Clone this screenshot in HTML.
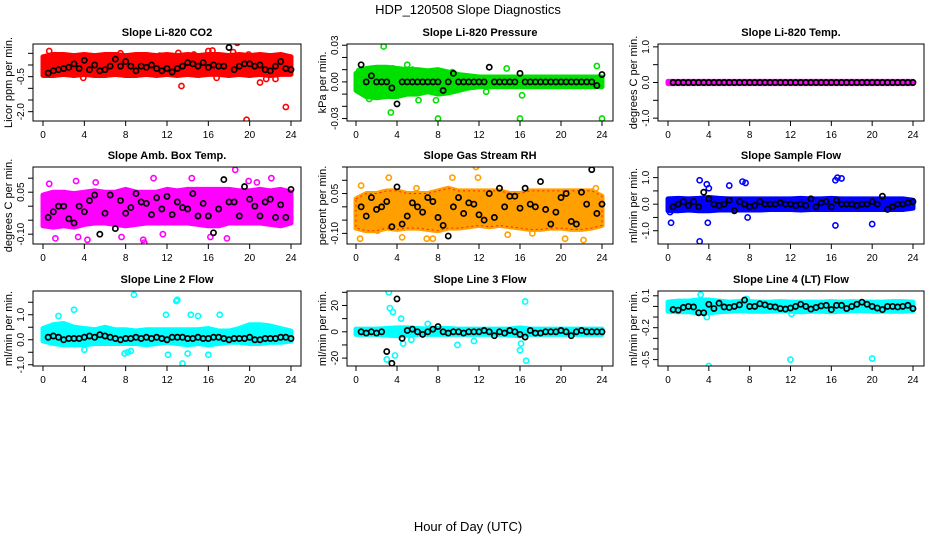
<!DOCTYPE html>
<html><head><meta charset="utf-8"><style>
body{margin:0;background:#fff;}
svg{display:block;font-family:"Liberation Sans",Arial,sans-serif;}
</style></head><body>
<svg id="chart" width="936" height="540" viewBox="0 0 936 540">
<text x="468" y="14" text-anchor="middle" font-size="13">HDP_120508  Slope Diagnostics</text>
<text x="468" y="531" text-anchor="middle" font-size="13">Hour of Day (UTC)</text>
</svg>
<script>
const xTicks=[0,4,8,12,16,20,24];
const blackHours=[0.5,1,1.5,2,2.5,3,3.5,4,4.5,5,5.5,6,6.5,7,7.5,8,8.5,9,9.5,10,10.5,11,11.5,12,12.5,13,13.5,14,14.5,15,15.5,16,16.5,17,17.5,18,18.5,19,19.5,20,20.5,21,21.5,22,22.5,23,23.5,24];
const bandHours=[0,1,2,3,4,5,6,7,8,9,10,11,12,13,14,15,16,17,18,19,20,21,22,23,24];
const titles=["Slope Li-820 CO2","Slope Li-820 Pressure","Slope Li-820 Temp.","Slope Amb. Box Temp.","Slope Gas Stream RH","Slope Sample Flow","Slope Line 2 Flow","Slope Line 3 Flow","Slope Line 4 (LT) Flow"];
const yTitles=["Licor ppm per min.","kPa per min.","degrees C per min.","degrees C per min.","percent per min.","ml/min per min.","ml/min per min.","ml/min per min.","ml/min per min."];
const yTickVals=[[0.5,0,-0.5,-1,-1.5,-2],[0.03,0.02,0.01,0,-0.01,-0.02,-0.03],[1,0.5,0,-0.5,-1],[0.1,0.05,0,-0.05,-0.1],[0.15,0.1,0.05,0,-0.05,-0.1],[1,0.5,0,-0.5,-1],[1.5,1,0.5,0,-0.5,-1],[30,20,10,0,-10,-20],[0.1,0,-0.1,-0.2,-0.3,-0.4,-0.5]];
const yTickLabels=[[null,null,"-0.5",null,null,"-2.0"],["0.03",null,null,"0.00",null,null,"-0.03"],["1.0",null,"0.0",null,"-1.0"],[null,"0.05",null,null,"-0.10"],[null,null,"0.05",null,null,"-0.10"],["1.0",null,"0.0",null,"-1.0"],[null,"1.0",null,"0.0",null,"-1.0"],[null,"20",null,"0",null,"-20"],["0.1",null,null,"-0.2",null,null,"-0.5"]];
const yLims=[[0.9,-2.4],[0.031,-0.032],[1.08,-1.08],[0.14,-0.135],[0.15,-0.14],[1.4,-1.5],[1.95,-1.05],[31,-26],[0.145,-0.56]];
const colors=["#ff0000","#00e000","#ff00ff","#ff00ff","#ffa000","#0000ff","#00ffff","#00ffff","#00ffff"];
const bandLo=[
[-0.45,-0.45,-0.4,-0.45,-0.4,-0.45,-0.45,-0.4,-0.45,-0.45,-0.4,-0.45,-0.4,-0.45,-0.4,-0.45,-0.4,-0.4,-0.45,-0.4,-0.45,-0.4,-0.45,-0.4,-0.4],
[-0.007,-0.012,-0.013,-0.012,-0.012,-0.01,-0.01,-0.008,-0.01,-0.009,-0.007,-0.005,-0.004,-0.004,-0.004,-0.004,-0.004,-0.004,-0.004,-0.004,-0.004,-0.004,-0.004,-0.004,-0.004],
[-0.03,-0.03,-0.03,-0.03,-0.03,-0.03,-0.03,-0.03,-0.03,-0.03,-0.03,-0.03,-0.03,-0.03,-0.03,-0.03,-0.03,-0.03,-0.03,-0.03,-0.03,-0.03,-0.03,-0.03,-0.03],
[-0.07,-0.075,-0.07,-0.075,-0.065,-0.06,-0.06,-0.065,-0.07,-0.065,-0.06,-0.06,-0.06,-0.06,-0.06,-0.065,-0.07,-0.07,-0.06,-0.06,-0.06,-0.06,-0.065,-0.07,-0.06],
[-0.08,-0.09,-0.09,-0.08,-0.085,-0.08,-0.08,-0.085,-0.09,-0.08,-0.08,-0.075,-0.07,-0.075,-0.07,-0.075,-0.08,-0.085,-0.085,-0.08,-0.08,-0.085,-0.085,-0.08,-0.07],
[-0.25,-0.25,-0.22,-0.25,-0.25,-0.22,-0.22,-0.22,-0.22,-0.22,-0.2,-0.2,-0.2,-0.22,-0.2,-0.2,-0.2,-0.2,-0.2,-0.2,-0.2,-0.2,-0.2,-0.2,-0.15],
[-0.05,-0.15,-0.2,-0.2,-0.2,-0.15,-0.15,-0.15,-0.15,-0.15,-0.2,-0.15,-0.1,-0.15,-0.2,-0.15,-0.2,-0.15,-0.1,-0.1,-0.15,-0.15,-0.1,-0.1,-0.05],
[-2,-2,-2,-2.5,-3,-2.5,-2,-2,-2,-2,-2,-2,-2,-2,-2,-2.5,-3,-2,-2,-2,-2,-2,-2,-2,-2],
[-0.045,-0.05,-0.05,-0.06,-0.06,-0.05,-0.045,-0.04,-0.045,-0.045,-0.045,-0.04,-0.045,-0.05,-0.045,-0.045,-0.05,-0.045,-0.04,-0.04,-0.045,-0.045,-0.045,-0.045,-0.04]];
const bandHi=[
[0.35,0.45,0.45,0.4,0.45,0.4,0.45,0.45,0.4,0.45,0.45,0.4,0.45,0.4,0.45,0.4,0.45,0.45,0.4,0.45,0.4,0.45,0.4,0.45,0.35],
[0.007,0.011,0.012,0.012,0.011,0.01,0.01,0.009,0.01,0.008,0.006,0.005,0.004,0.004,0.004,0.004,0.004,0.004,0.004,0.004,0.004,0.004,0.004,0.004,0.004],
[0.03,0.03,0.03,0.03,0.03,0.03,0.03,0.03,0.03,0.03,0.03,0.03,0.03,0.03,0.03,0.03,0.03,0.03,0.03,0.03,0.03,0.03,0.03,0.03,0.03],
[0.04,0.05,0.05,0.045,0.05,0.055,0.05,0.05,0.06,0.05,0.05,0.05,0.06,0.055,0.06,0.06,0.06,0.06,0.06,0.055,0.055,0.06,0.055,0.06,0.05],
[0.03,0.05,0.05,0.06,0.06,0.05,0.05,0.05,0.06,0.07,0.06,0.06,0.06,0.06,0.06,0.05,0.05,0.06,0.06,0.06,0.06,0.06,0.06,0.06,0.04],
[0.2,0.22,0.2,0.22,0.25,0.22,0.2,0.2,0.2,0.2,0.2,0.2,0.2,0.22,0.2,0.2,0.22,0.2,0.2,0.2,0.2,0.2,0.2,0.2,0.15],
[0.45,0.6,0.65,0.5,0.45,0.4,0.5,0.4,0.4,0.35,0.4,0.4,0.4,0.4,0.4,0.4,0.45,0.35,0.35,0.45,0.6,0.6,0.55,0.45,0.35],
[2,2,2,2.5,3,3,2.5,2,2.5,2.5,2,2,2,2,2,2,3,2,2,2,2,2,2,2,2],
[0.04,0.05,0.05,0.06,0.06,0.05,0.04,0.045,0.045,0.04,0.04,0.045,0.04,0.04,0.04,0.04,0.045,0.04,0.045,0.04,0.04,0.04,0.045,0.045,0.04]];
const blackVals=[
[-0.35,-0.25,-0.2,-0.15,-0.1,0.05,-0.15,0.2,-0.2,0.0,-0.25,-0.2,-0.05,0.25,-0.05,0.15,-0.05,-0.25,-0.05,-0.1,0.0,-0.15,-0.25,-0.15,-0.3,-0.15,-0.05,0.1,0.05,-0.05,0.1,-0.1,0.0,-0.05,-0.05,0.75,-0.2,-0.05,0.05,0.05,-0.05,0.0,-0.2,-0.25,-0.05,0.15,-0.15,-0.2],
[0.014,0,0.005,0,0,0,-0.005,-0.018,0,0,0,0,0,0,0,0,-0.007,0,0.007,0,0,0,0,0,0,0.012,0,0,0,0,0,0.007,0,0,0,0,0,0,0,0,0,0,0,0,0,0,-0.003,0.006],
[0,0,0,0,0,0,0,0,0,0,0,0,0,0,0,0,0,0,0,0,0,0,0,0,0,0,0,0,0,0,0,0,0,0,0,0,0,0,0,0,0,0,0,0,0,0,0,0],
[-0.04,-0.02,0,0,-0.045,-0.06,0.0,-0.02,0.02,0.04,-0.1,-0.025,0.04,-0.08,0.02,-0.025,-0.005,0.045,0.015,0.01,-0.03,0.03,-0.01,0.035,-0.03,0.015,-0.005,-0.01,0.045,-0.035,0.01,-0.035,-0.095,-0.01,0.095,0.015,0.015,-0.035,0.07,0.025,0,-0.035,0.015,0.025,-0.04,0.005,-0.04,0.06],
[0,-0.035,0.035,-0.01,0,0.02,-0.075,0.075,-0.065,-0.035,0.015,0,-0.02,0.035,0.02,-0.04,-0.07,-0.11,0.0,0.035,-0.025,0.015,0.01,-0.03,-0.05,0.05,-0.04,0.07,0.0,0.04,0.04,-0.005,0.07,0.01,0.0,0.095,-0.01,-0.065,-0.02,0.035,0.05,-0.055,-0.065,0.055,0.01,0.14,-0.025,0.01],
[-0.1,0.0,0.1,-0.05,0.1,-0.1,0.45,0.2,0.0,-0.05,0.0,0.15,-0.25,0.1,0.0,-0.1,-0.05,0.1,0.0,0.0,0.0,0.05,0.0,0.0,-0.05,0.0,-0.05,0.2,-0.1,0.05,0.1,-0.1,0.15,0.0,0.0,0.0,-0.05,0.0,0.0,0.1,0.0,0.3,-0.2,-0.1,0.0,0.0,0.05,0.1],
[0.1,0.15,0.1,0.0,0.05,0.05,0.05,0.1,0.15,0.1,0.2,0.15,0.1,0.05,0.0,0.05,0.05,0.1,0.05,0.1,0.05,0.1,0.05,0.0,0.1,0.1,0.1,0.05,0.05,0.1,0.05,0.05,0.1,0.1,0.05,0.0,0.05,0.05,0.05,0.1,0.0,0.0,0.05,0.05,0.05,0.1,0.1,0.05],
[0,-1,0,-1,0,-15,-24,25,-5,1,2,0,-2,0,2,4,0,-1,0,0,-1,0,0,0,1,0,-3,0,-1,1,0,-2,-4,1,-1,-1,0,0,0,1,0,-3,0,1,0,0,0,0],
[-0.03,-0.035,-0.01,0,-0.005,-0.06,-0.06,0.02,-0.02,0.03,-0.005,-0.01,0.0,0.015,0.06,0.0,0.0,0.025,0.015,0.0,-0.005,-0.02,-0.025,-0.015,0.0,0.02,0.0,-0.025,-0.01,0.005,0.01,-0.03,0.01,0.01,-0.02,0.0,0.02,0.04,0.02,0.0,-0.015,-0.03,0.0,0.0,-0.005,0.0,0.01,-0.02]];
const outX=[
[19.7,23.5,13.4,21,18.8,16,16.4,19.9,0.6,7.5,13.1,21.6,3.9,16.8,14.6,18.4,0.2,11.3,22.5],
[2.7,3.4,8,16,24,14.7,5,23.5,1.3,6.1,7.8,16.2,0.3,5.5,3.6,9.4,12.7],
[],
[9.8,7.6,1.2,4.3,18.6,0.6,22.1,10.7,5.1,11.6,14.4,19.9,3.4,3.2,16.2,17.8,9.7,20.7],
[11.7,7.5,0.4,4.5,22.2,9.4,3.2,11.9,2.1,14.8,23.4,0.5,5.9,6.9,17.2,20.4],
[3.1,3.1,0.3,3.8,16.4,16.6,17,20,3.9,16.4,6,7.3,7.6,0.2,7.8,4],
[8.8,13,12.9,13.5,8.5,3,14.3,1.5,12.1,8.2,16,11.9,4,7.9,15,14,17.1],
[3.2,3.3,3.6,4.4,16.5,3,3.8,16.1,16.6,16,4.6,11.5,9.9,7,5.4],
[4,12,20,3.2,7.7,3.8,12.1]];
const outY=[
[-2.35,-1.8,-0.9,-0.75,0.95,0.6,0.62,0.45,0.6,0.5,0.52,-0.6,-0.55,-0.55,0.45,0.55,-0.3,0.4,-0.6],
[0.029,-0.025,-0.03,-0.03,-0.03,0.011,0.014,0.013,-0.014,-0.015,-0.015,-0.011,0.009,0.01,0.011,0.008,-0.008],
[],
[-0.13,-0.11,-0.115,-0.12,0.13,0.08,0.1,0.1,0.085,-0.1,0.1,0.09,-0.11,0.09,-0.11,-0.115,-0.12,0.085],
[0.15,-0.12,-0.12,-0.115,-0.125,0.11,0.11,0.11,-0.09,-0.105,0.07,0.08,0.07,-0.12,-0.1,-0.12],
[-1.4,0.9,-0.7,0.75,0.9,1.0,0.97,-0.75,-0.7,-0.8,0.7,0.85,0.8,-0.3,-0.5,0.6],
[1.8,1.6,1.55,-0.95,-0.45,1.2,1.0,0.95,-0.6,-0.5,-0.6,1.0,-0.4,-0.55,0.95,-0.55,1.0],
[30,18,15,10,23,-21,-18,-9,-22,-14,-9,-7,-10,6,-6],
[-0.56,-0.5,-0.49,0.11,0.07,-0.1,-0.07]];
const boxes=[[33,301,44,121],[347,613,44,121],[658,924,44,121],[33,301,167,244],[347,613,167,244],[658,924,167,244],[33,301,291,366],[347,613,291,366],[658,924,291,366]];
const xRange=[[43,291],[356,602],[668,913]];
const NS="http://www.w3.org/2000/svg";
const svg=document.getElementById('chart');
function mk(tag,attrs,parent){const e=document.createElementNS(NS,tag);for(const k in attrs)e.setAttribute(k,attrs[k]);(parent||svg).appendChild(e);return e;}
for(let p=0;p<9;p++){
  const [L,R,T,B]=boxes[p];const col=p%3;
  const [x0,x24]=xRange[col];
  const [yTop,yBot]=yLims[p];
  const sx=h=>x0+(x24-x0)*h/24;
  const sy=v=>T+(yTop-v)/(yTop-yBot)*(B-T);
  const g=mk('g',{});
  
  
  const clipId='clip'+p;
  const cp=mk('clipPath',{id:clipId},g);mk('rect',{x:L,y:T,width:R-L,height:B-T},cp);
  const title=mk('text',{x:(L+R)/2,y:T-8,'text-anchor':'middle','font-size':11,'font-weight':'bold'},g);
  title.textContent=titles[p];
  
  
  const yt=mk('text',{transform:`translate(${L-21},${(T+B)/2}) rotate(-90)`,'text-anchor':'middle','font-size':11},g);
  yt.textContent=yTitles[p];
  
  
  const data=mk('g',{'clip-path':`url(#${clipId})`},g);
  // band
  let d='';
  bandHours.forEach((h,i)=>{d+=(i?'L':'M')+sx(h)+','+sy(bandHi[p][i]);});
  for(let i=bandHours.length-1;i>=0;i--)d+='L'+sx(bandHours[i])+','+sy(bandLo[p][i]);
  const band=mk('path',{d:d+'Z',fill:colors[p],stroke:colors[p],'stroke-width':5,'stroke-linejoin':'round'},data);
  
  
  if(p===4){mk('path',{d:d+'Z',fill:'none',stroke:'#ff2000','stroke-width':1,'stroke-dasharray':'2 3'},data);}
  outX[p].forEach((h,i)=>{
    const c=mk('circle',{cx:sx(h),cy:sy(outY[p][i]),r:2.6,fill:'none',stroke:colors[p],'stroke-width':1.6},data);
    
    
  });
  blackHours.forEach((h,i)=>{
    const c=mk('circle',{cx:sx(h),cy:sy(blackVals[p][i]),r:2.6,fill:'none',stroke:'#000','stroke-width':1.7},data);
    
    
  });
  const box=mk('rect',{x:L,y:T,width:R-L,height:B-T,fill:'none',stroke:'#000','stroke-width':1},g);
  
  
  xTicks.forEach(h=>{
    mk('line',{x1:sx(h),x2:sx(h),y1:B,y2:B+5,stroke:'#000'},g);
    const t=mk('text',{x:sx(h),y:B+17,'text-anchor':'middle','font-size':10},g);
    t.textContent=h;
    
    
  });
  yTickVals[p].forEach((v,i)=>{
    const y=sy(v);
    mk('line',{x1:L-5,x2:L,y1:y,y2:y,stroke:'#000'},g);
    if(yTickLabels[p][i]!==null){
      const t=mk('text',{transform:`translate(${L-9},${y}) rotate(-90)`,'text-anchor':'middle','font-size':10},g);
      t.textContent=yTickLabels[p][i];
      
      
    }
  });
}
</script>
</body></html>
